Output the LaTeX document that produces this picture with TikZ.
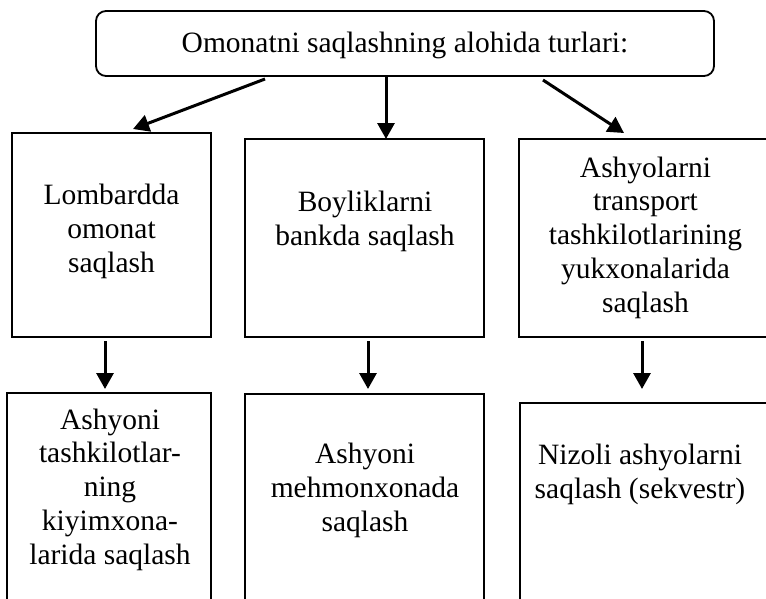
\documentclass[tikz,border=0pt]{standalone}
\usepackage{fontspec}
\setmainfont{Liberation Serif}
\usetikzlibrary{arrows.meta}
\tikzset{
  box/.style={draw=black, line width=1.8pt, rectangle, inner sep=0pt},
  rbox/.style={box, rounded corners=10pt},
  txt/.style={align=center, inner sep=0pt, anchor=base, font=\fontsize{29.5pt}{33.7pt}\selectfont},
  arr/.style={line width=3pt, -{Triangle[length=16pt,width=17pt]}}
}
\begin{document}
\begin{tikzpicture}[x=1pt,y=-1pt]
\useasboundingbox (0,0) rectangle (766,598);
\clip (0,0) rectangle (766,598);
% boxes
\node[rbox, minimum width=618pt, minimum height=65pt] (top) at (405,43.5) {};
\node[box, minimum width=199pt, minimum height=204pt] (b1) at (111.5,235) {};
\node[box, minimum width=239pt, minimum height=198pt] (b2) at (364.5,238) {};
\node[box, minimum width=262pt, minimum height=198pt] (b3) at (650,238) {};
\node[box, minimum width=204pt, minimum height=240pt] (c1) at (109,513) {};
\node[box, minimum width=239pt, minimum height=240pt] (c2) at (364.5,514) {};
\node[box, minimum width=262pt, minimum height=240pt] (c3) at (651,523) {};
% texts (anchor base = baseline of last line)
\node[txt] (ttop) at (405,52) {Omonatni saqlashning alohida turlari:};
\node[txt] (tb1) at (111.5,272) {Lombardda\\omonat\\saqlash};
\node[txt] (tb2) at (365,245) {Boyliklarni\\bankda saqlash};
\node[txt] (tb3) at (645.5,312) {Ashyolarni\\transport\\tashkilotlarining\\yukxonalarida\\saqlash};
\node[txt] (tc1) at (110,564) {Ashyoni\\tashkilotlar-\\ning\\kiyimxona-\\larida saqlash};
\node[txt] (tc2) at (365,531) {Ashyoni\\mehmonxonada\\saqlash};
\node[txt] (tc3) at (640,498) {Nizoli ashyolarni\\saqlash (sekvestr)};
% arrow end points
\coordinate (s1) at (265,79);
\coordinate (e1) at (133,129);
\coordinate (s2) at (386,76);
\coordinate (e2) at (386,139);
\coordinate (s3) at (543,80);
\coordinate (e3) at (624,133);
\coordinate (d1s) at (105,341);
\coordinate (d1e) at (105,389);
\coordinate (d2s) at (368,341);
\coordinate (d2e) at (368,389);
\coordinate (d3s) at (642,341);
\coordinate (d3e) at (642,389);
\draw[arr] (s1) -- (e1);
\draw[arr] (s2) -- (e2);
\draw[arr] (s3) -- (e3);
\draw[arr] (d1s) -- (d1e);
\draw[arr] (d2s) -- (d2e);
\draw[arr] (d3s) -- (d3e);
\end{tikzpicture}
\end{document}
